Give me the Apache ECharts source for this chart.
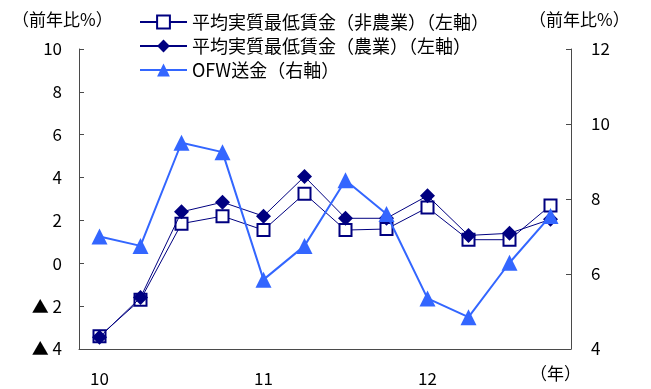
<!DOCTYPE html>
<html>
<head>
<meta charset="utf-8">
<script src="https://cdn.jsdelivr.net/npm/echarts@6/dist/echarts.min.js"></script>
<style>
  html, body { margin: 0; padding: 0; background: #fff; }
  #chart { width: 651px; height: 389px; }
</style>
</head>
<body>
<div id="chart"></div>
<script>
// Quarterly categories, 2010Q1 - 2012Q4
const quarters = ['10Q1','10Q2','10Q3','10Q4','11Q1','11Q2','11Q3','11Q4','12Q1','12Q2','12Q3','12Q4'];

// Year-on-year %, left axis
const wageNonAgri = [-3.4, -1.7, 1.85, 2.2, 1.55, 3.25, 1.55, 1.6, 2.6, 1.1, 1.1, 2.7];
const wageAgri    = [-3.45, -1.6, 2.4, 2.85, 2.2, 4.05, 2.1, 2.1, 3.15, 1.3, 1.4, 2.05];
// Year-on-year %, right axis
const ofwRemit    = [7.0, 6.75, 9.5, 9.25, 5.85, 6.75, 8.5, 7.6, 5.35, 4.85, 6.3, 7.55];

const leftTicks = { min: -4, max: 10, interval: 2 };
const rightTicks = { min: 4, max: 12, interval: 2 };

const seriesNames = [
  '平均実質最低賃金（非農業）（左軸）',
  '平均実質最低賃金（農業）（左軸）',
  'OFW送金（右軸）'
];

const FONT = '"Noto Sans CJK JP", "Noto Sans", sans-serif';
const NAVY = '#000080';
const BLUE = '#3366ff';
const AXIS = '#4a4a4a';

const chart = echarts.init(document.getElementById('chart'), null, { renderer: 'canvas' });

chart.setOption({
  animation: false,
  backgroundColor: '#ffffff',
  textStyle: { fontFamily: FONT, color: '#000' },
  grid: { left: 79, right: 80, top: 49, bottom: 40, containLabel: false },
  legend: {
    orient: 'vertical',
    left: 134,
    top: 8,
    itemWidth: 47,
    itemHeight: 16,
    itemGap: 6,
    textStyle: { fontFamily: FONT, fontSize: 18, color: '#000' },
    data: seriesNames
  },
  graphic: [
    { type: 'text', left: 12, top: 11,
      style: { text: '（前年比%）', fontFamily: FONT, fontSize: 17, fill: '#000' } },
    { type: 'text', left: 529, top: 11,
      style: { text: '（前年比%）', fontFamily: FONT, fontSize: 17, fill: '#000' } },
    { type: 'text', left: 530, top: 365,
      style: { text: '（年）', fontFamily: FONT, fontSize: 17, fill: '#000' } }
  ],
  xAxis: {
    type: 'category',
    data: quarters,
    boundaryGap: true,
    axisLine: { onZero: false, lineStyle: { color: AXIS, width: 1 } },
    axisTick: { inside: true, interval: 3, length: 5, lineStyle: { color: AXIS } },
    axisLabel: {
      interval: 3,
      margin: 21,
      fontSize: 17,
      fontFamily: FONT,
      color: '#000',
      formatter: v => v.slice(0, 2)
    },
    splitLine: { show: false }
  },
  yAxis: [
    {
      type: 'value',
      min: leftTicks.min, max: leftTicks.max, interval: leftTicks.interval,
      axisLine: { show: true, lineStyle: { color: AXIS, width: 1 } },
      axisTick: { show: true, inside: true, length: 5, lineStyle: { color: AXIS } },
      axisLabel: {
        margin: 17, fontSize: 17, fontFamily: FONT, color: '#000',
        formatter: v => v < 0 ? '▲ ' + Math.abs(v) : String(v)
      },
      splitLine: { show: false }
    },
    {
      type: 'value',
      min: rightTicks.min, max: rightTicks.max, interval: rightTicks.interval,
      position: 'right',
      axisLine: { show: true, lineStyle: { color: AXIS, width: 1 } },
      axisTick: { show: true, inside: true, length: 5, lineStyle: { color: AXIS } },
      axisLabel: { margin: 20, fontSize: 17, fontFamily: FONT, color: '#000' },
      splitLine: { show: false }
    }
  ],
  series: [
    {
      name: seriesNames[0],
      type: 'line',
      yAxisIndex: 0,
      data: wageNonAgri,
      symbol: 'rect',
      symbolSize: 12,
      lineStyle: { color: NAVY, width: 1 },
      itemStyle: { color: '#ffffff', borderColor: NAVY, borderWidth: 2 },
      z: 3
    },
    {
      name: seriesNames[1],
      type: 'line',
      yAxisIndex: 0,
      data: wageAgri,
      symbol: 'diamond',
      symbolSize: 15,
      lineStyle: { color: NAVY, width: 1 },
      itemStyle: { color: NAVY },
      z: 4
    },
    {
      name: seriesNames[2],
      type: 'line',
      yAxisIndex: 1,
      data: ofwRemit,
      symbol: 'triangle',
      symbolSize: 16,
      lineStyle: { color: BLUE, width: 2 },
      itemStyle: { color: BLUE },
      z: 5
    }
  ]
});
</script>
</body>
</html>
